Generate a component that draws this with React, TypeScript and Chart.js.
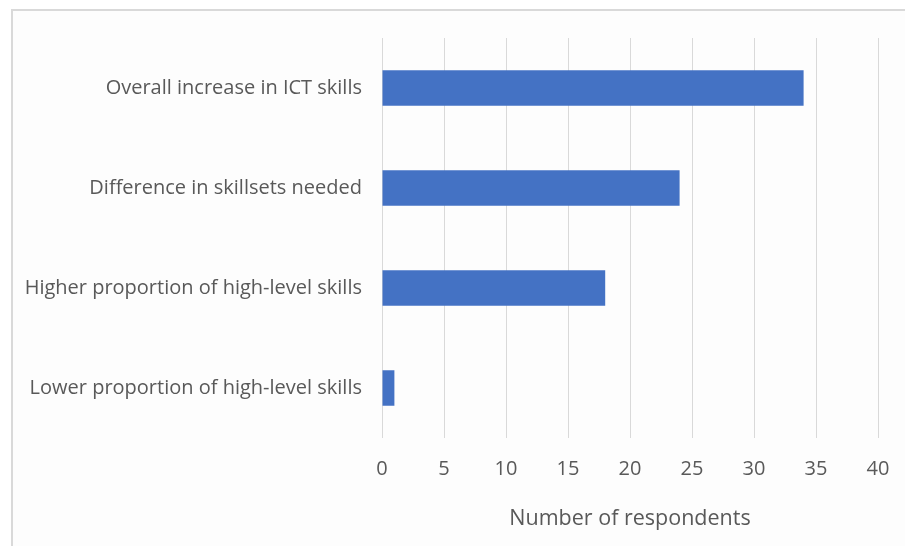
import React, { useEffect, useRef } from "react";
import { Chart, registerables } from "chart.js";

Chart.register(...registerables);

const categories = [
  "Overall increase in ICT skills",
  "Difference in skillsets needed",
  "Higher proportion of high-level skills",
  "Lower proportion of high-level skills",
];
const respondents = [34, 24, 18, 1];
const xTicks = [0, 5, 10, 15, 20, 25, 30, 35, 40];
const axisTitle = "Number of respondents";

const FONT = "'Open Sans', Lato, sans-serif";
const TEXT = "#595959";

const framePlugin = {
  id: "frame",
  beforeDraw(chart: any) {
    const { ctx } = chart;
    ctx.save();
    ctx.fillStyle = "#ffffff";
    ctx.fillRect(0, 0, chart.width, chart.height);
    ctx.fillStyle = "#fdfdfd";
    ctx.fillRect(12, 10, chart.width - 12, chart.height - 10);
    ctx.strokeStyle = "#d9d9d9";
    ctx.lineWidth = 2;
    ctx.beginPath();
    ctx.moveTo(12, chart.height);
    ctx.lineTo(12, 10);
    ctx.lineTo(chart.width, 10);
    ctx.stroke();
    ctx.restore();
  },
};

export default function App() {
  const ref = useRef<HTMLCanvasElement>(null);
  useEffect(() => {
    if (!ref.current) return;
    const chart = new Chart(ref.current, {
      type: "bar",
      data: {
        labels: categories,
        datasets: [
          {
            data: respondents,
            backgroundColor: "#4472c4",
            borderWidth: 0,
            barPercentage: 0.355,
            categoryPercentage: 1,
          },
        ],
      },
      options: {
        indexAxis: "y",
        animation: false,
        responsive: false,
        maintainAspectRatio: false,
        layout: { padding: { left: 0, right: 27, top: 38, bottom: 0 } },
        plugins: {
          legend: { display: false },
          tooltip: { enabled: false },
        },
        scales: {
          x: {
            min: 0,
            max: 40,
            afterBuildTicks(scale: any) {
              scale.ticks = xTicks.map((v) => ({ value: v }));
            },
            afterFit(scale: any) {
              scale.height = 108;
              scale.paddingLeft = 0;
              scale.paddingRight = 0;
            },
            border: { display: false },
            grid: { color: "#d9d9d9", lineWidth: 1, drawTicks: false },
            ticks: {
              color: TEXT,
              font: { family: FONT, size: 20 },
              padding: 19,
            },
            title: {
              display: true,
              text: axisTitle,
              color: TEXT,
              font: { family: FONT, size: 21.5 },
              padding: { top: 0, bottom: 14 },
            },
          },
          y: {
            afterFit(scale: any) {
              scale.width = 382;
              scale.paddingTop = 0;
              scale.paddingBottom = 0;
            },
            border: { display: false },
            grid: { display: false, drawTicks: false },
            ticks: {
              color: TEXT,
              font: { family: FONT, size: 20 },
              padding: 20,
            },
          },
        },
      },
      plugins: [framePlugin],
    });
    return () => chart.destroy();
  }, []);
  return (
    <div style={{ position: "absolute", left: 0, top: 0, width: 905, height: 546 }}>
      <canvas ref={ref} width={905} height={546} style={{ width: 905, height: 546 }} />
    </div>
  );
}
